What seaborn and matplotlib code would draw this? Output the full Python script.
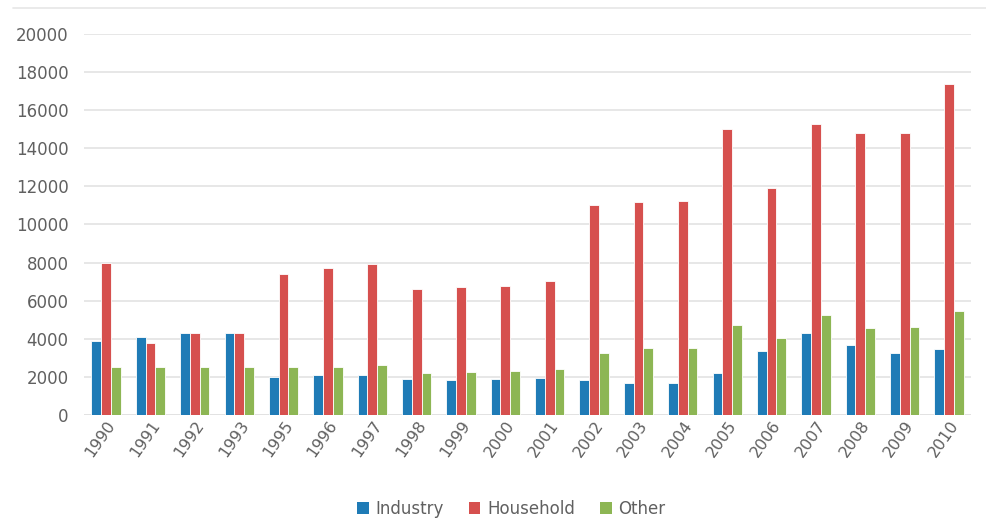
import matplotlib
matplotlib.use("Agg")
import matplotlib.pyplot as plt
from matplotlib.lines import Line2D
from matplotlib.patches import Patch
import seaborn as sns
import pandas as pd

years = ["1990", "1991", "1992", "1993", "1995", "1996", "1997", "1998", "1999", "2000",
         "2001", "2002", "2003", "2004", "2005", "2006", "2007", "2008", "2009", "2010"]
industry = [3900, 4100, 4300, 4300, 2000, 2100, 2100, 1900, 1850, 1900,
            1950, 1850, 1700, 1700, 2200, 3350, 4300, 3700, 3250, 3450]
household = [8000, 3800, 4300, 4300, 7400, 7700, 7900, 6600, 6700, 6750,
             7050, 11000, 11200, 11250, 15000, 11900, 15300, 14800, 14800, 17400]
other = [2500, 2500, 2500, 2500, 2500, 2500, 2600, 2200, 2250, 2300,
         2400, 3250, 3500, 3500, 4700, 4050, 5250, 4550, 4600, 5450]
series = ["Industry", "Household", "Other"]
colors = ["#1f7bb6", "#d6504e", "#8db654"]

rows = []
for name, vals in zip(series, [industry, household, other]):
    for y, v in zip(years, vals):
        rows.append({"year": y, "series": name, "value": v})
df = pd.DataFrame(rows)

sns.set_theme(style="white")
plt.rcParams['font.family'] = ['DejaVu Sans']

fig = plt.figure(figsize=(9.87, 5.19), dpi=100)
ax = fig.add_axes([0.085, 0.2004, 0.899, 0.7341])

sns.barplot(data=df, x="year", y="value", hue="series", order=years,
            hue_order=series, palette=colors, width=0.66, saturation=1,
            edgecolor="white", linewidth=0.6, legend=False, ax=ax)

ax.set_ylim(0, 20000)
ax.set_yticks(range(0, 20001, 2000))
ax.yaxis.grid(True, color="#e3e3e3", linewidth=1.2)
ax.set_axisbelow(True)
for s in ax.spines.values():
    s.set_visible(False)
ax.axhline(0, color="#dcdcdc", linewidth=1.2, zorder=0)
ax.set_xlabel("")
ax.set_ylabel("")
ax.tick_params(axis="y", labelsize=12, colors="#606060", length=0, pad=11)
ax.tick_params(axis="x", labelsize=11.5, colors="#606060", length=0, pad=2)
for lab in ax.get_xticklabels():
    lab.set_rotation(55)
    lab.set_ha("right")
    lab.set_rotation_mode("anchor")
ax.set_xlim(-0.5, len(years) - 0.5)

handles = [Patch(facecolor=c, edgecolor="none") for c in colors]
fig.legend(handles, series, loc="center", bbox_to_anchor=(0.518, 0.02),
           ncol=3, frameon=False, fontsize=12, handlelength=0.7, handleheight=0.7,
           columnspacing=1.5, handletextpad=0.4, labelcolor="#606060")

fig.add_artist(Line2D([0.013, 1.0], [0.985, 0.985], color="#e6e6e6", linewidth=1.2))

fig.savefig("out.png", dpi=100)
